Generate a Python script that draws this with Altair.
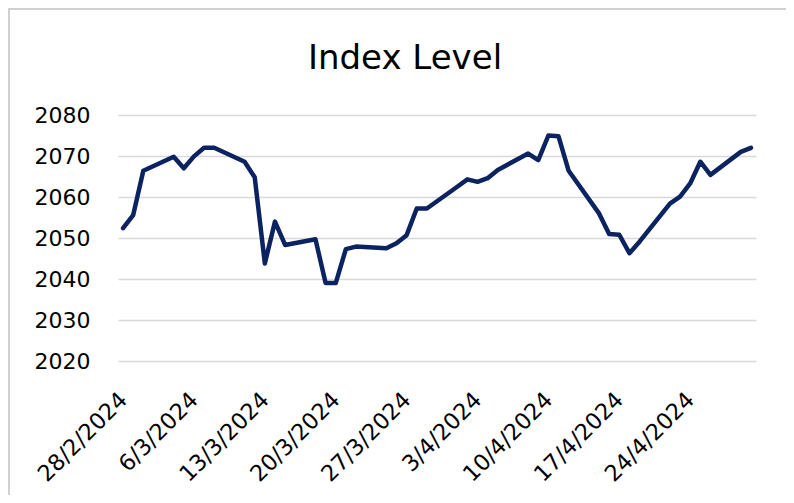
import altair as alt
import pandas as pd

dates = [
    "2024-02-28", "2024-02-29", "2024-03-01", "2024-03-04", "2024-03-05",
    "2024-03-06", "2024-03-07", "2024-03-08", "2024-03-11", "2024-03-12",
    "2024-03-13", "2024-03-14", "2024-03-15", "2024-03-18", "2024-03-19",
    "2024-03-20", "2024-03-21", "2024-03-22", "2024-03-25", "2024-03-26",
    "2024-03-27", "2024-03-28", "2024-03-29", "2024-04-01", "2024-04-02",
    "2024-04-03", "2024-04-04", "2024-04-05", "2024-04-08", "2024-04-09",
    "2024-04-10", "2024-04-11", "2024-04-12", "2024-04-15", "2024-04-16",
    "2024-04-17", "2024-04-18", "2024-04-19", "2024-04-22", "2024-04-23",
    "2024-04-24", "2024-04-25", "2024-04-26", "2024-04-29", "2024-04-30",
]
values = [
    2052.4, 2055.6, 2066.4, 2069.8, 2067.0,
    2069.9, 2072.0, 2072.0, 2068.6, 2064.8,
    2043.8, 2054.0, 2048.3, 2049.7, 2039.0,
    2039.0, 2047.3, 2047.9, 2047.5, 2048.7,
    2050.7, 2057.2, 2057.2, 2062.5, 2064.3,
    2063.7, 2064.6, 2066.6, 2070.6, 2069.0,
    2075.0, 2074.8, 2066.4, 2056.0, 2051.0,
    2050.8, 2046.3, 2049.1, 2058.4, 2060.1,
    2063.3, 2068.6, 2065.4, 2071.0, 2072.0,
]
tick_dates = [(2, 28), (3, 6), (3, 13), (3, 20), (3, 27), (4, 3), (4, 10), (4, 17), (4, 24)]
y_ticks = [2020, 2030, 2040, 2050, 2060, 2070, 2080]

df = pd.DataFrame({"date": [d + "T00:00:00" for d in dates], "value": values})

FONT = "DejaVu Sans"

line = alt.Chart(df).mark_line(
    color="#0b2361", strokeWidth=4.5, strokeJoin="round", strokeCap="round"
).encode(
    x=alt.X(
        "date:T",
        scale=alt.Scale(domain=[
            alt.DateTime(year=2024, month=2, date=27, hours=12),
            alt.DateTime(year=2024, month=4, date=30, hours=12),
        ]),
        axis=alt.Axis(
            values=[alt.DateTime(year=2024, month=m, date=d) for m, d in tick_dates],
            format="%-d/%-m/%Y", labelAngle=-45, labelAlign="right",
            labelBaseline="middle", grid=False, ticks=False,
            domain=False, labelFontSize=22.5, labelFont=FONT, labelColor="#000",
            labelPadding=35, labelOverlap=False, labelBound=False, title=None,
        ),
    ),
    y=alt.Y(
        "value:Q",
        scale=alt.Scale(domain=[2020, 2080], nice=False, zero=False),
        axis=alt.Axis(
            values=y_ticks, grid=True, gridColor="#d9d9d9", gridWidth=1.3,
            ticks=False, domain=False, labelPadding=28, labelFontSize=22,
            labelFont=FONT, labelColor="#000", title=None, format="d",
        ),
    ),
)

frame = alt.Chart(pd.DataFrame({"a": [0]})).mark_rect(
    filled=False, stroke="#d0d0d0", strokeWidth=2
).encode(
    x=alt.value(-109), x2=alt.value(700), y=alt.value(-106), y2=alt.value(500)
)

chart = alt.layer(frame, line).properties(
    width=638,
    height=246,
    autosize=alt.AutoSizeParams(type="none"),
    padding={"left": 110, "top": 107, "right": 30, "bottom": 134},
    title=alt.TitleParams(
        "Index Level", fontSize=34, font=FONT, fontWeight="normal",
        anchor="middle", frame="group", dx=-32, offset=-68, color="#000",
    ),
).configure(background="white").configure_view(stroke=None)

chart.save("out.html", embed_options={"renderer": "svg", "actions": False})
